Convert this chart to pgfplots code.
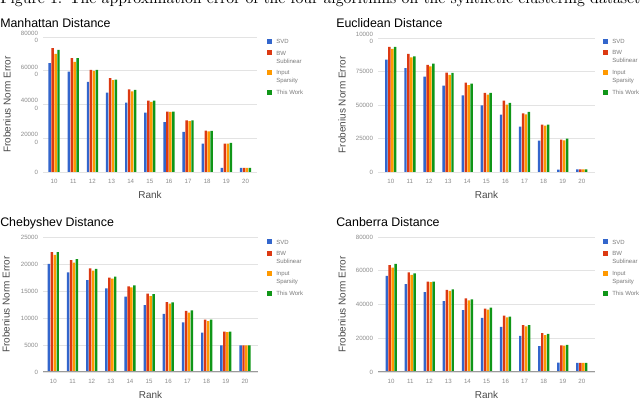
\documentclass[border=0pt]{standalone}
\usepackage{graphicx}
\usepackage{fontspec}
\setsansfont{Liberation Sans}
\usepackage{pgfplots}
\pgfplotsset{compat=1.18}
\usepackage{pgfplotstable}

\definecolor{svd}{HTML}{3366CC}
\definecolor{bws}{HTML}{DC3912}
\definecolor{inp}{HTML}{FF9900}
\definecolor{tw}{HTML}{109618}
\definecolor{gridc}{HTML}{E3E3E3}
\definecolor{tickc}{HTML}{8A8A8A}
\definecolor{labc}{HTML}{4A4A4A}
\definecolor{legc}{HTML}{7A7A7A}
\definecolor{basec}{HTML}{9A9A9A}

% values
\pgfplotstableread{
rank svd bw inp tw
10 645000 734000 700000 724000
11 595000 675000 652000 675000
12 534000 605000 599000 605000
13 470000 557000 544000 548000
14 411000 490000 478000 486000
15 352000 423000 415000 423000
16 296000 358000 356000 358000
17 237000 306000 302000 306000
18 168000 245000 241000 243000
19 24000 168000 168000 172000
20 24000 24000 24000 24000
}\manhattan

\pgfplotstableread{
rank svd bw inp tw
10 83800 93300 91800 93300
11 77600 88100 85600 86300
12 71100 79900 78900 80800
13 64400 74100 72400 73900
14 57200 66700 64900 65900
15 49800 59000 57700 59000
16 42800 53200 50200 51500
17 33800 43800 43000 44800
18 23400 35300 34600 35300
19 1700 24100 23600 24900
20 1900 1900 1900 1900
}\euclid

\pgfplotstableread{
rank svd bw inp tw
10 20000 22200 21700 22200
11 18450 20700 20250 20900
12 17000 19200 18750 19100
13 15500 17470 17300 17650
14 13950 15860 15680 16050
15 12400 14500 14070 14440
16 10740 12960 12650 12900
17 9200 11300 10990 11420
18 7280 9690 9440 9690
19 4940 7470 7400 7470
20 4940 4940 4940 4940
}\cheby

\pgfplotstableread{
rank svd bw inp tw
10 57000 63400 61800 64000
11 52000 59000 57600 58400
12 47400 53600 53200 53600
13 42000 48600 48000 49000
14 36600 43600 42400 43000
15 32000 37500 37000 38200
16 26800 33400 32400 32800
17 21400 27800 27000 27800
18 15400 23000 21800 22600
19 5600 15800 15600 16000
20 5400 5400 5400 5400
}\canberra

% legend entries: second line hangs below, room for it is made by the next entry
\newcommand{\twoline}[3][4.2pt]{\begin{tabular}[t]{@{}l@{}}\rule{0pt}{#1}#2\\#3\end{tabular}}
\newcommand{\legs}{\legend{SVD\strut,\twoline{BW}{Sublinear},\twoline[10.2pt]{Input}{Sparsity},\rule{0pt}{10.7pt}This Work\strut}}

\pgfplotsset{
  panel/.style={
    scale only axis,
    ybar=0.35pt, bar width=1.85pt,
    ymin=0,
    scaled y ticks=false,
    xtick={10,...,20},
    axis line style={draw=none},
    tick style={draw=none},
    ymajorgrids,
    major grid style={gridc, line width=0.6pt},
    /pgf/number format/assume math mode=true,
    tick label style={font=\sffamily\fontsize{4.6}{5.6}\selectfont, text=tickc},
    xticklabel style={inner sep=0pt, anchor=north, yshift=-1pt},
    yticklabel style={inner sep=0pt, anchor=east, xshift=-3.6pt, align=right},
    xlabel=Rank,
    ylabel=Frobenius Norm Error,
    label style={font=\sffamily\fontsize{7.5}{9}\selectfont, text=labc},
    xlabel style={at={(axis description cs:0.5,-0.17)}, anchor=center},
    title style={font=\sffamily\fontsize{9.3}{11}\selectfont, anchor=base west, inner sep=0pt, yshift=-6pt, text=black},
    legend style={draw=none, fill=none, anchor=north west,
      font=\sffamily\fontsize{4.5}{6}\selectfont, text=legc,
      row sep=3pt, column sep=3pt, inner sep=0pt,
      nodes={inner sep=0pt}, cells={anchor=base west}},
    every axis plot post/.append style={draw=none,
      legend image code/.code={\fill[##1,draw=none] (0pt,-0.3pt) rectangle (3.75pt,3.45pt);}},
  },
}

\begin{document}
\begin{tikzpicture}
\useasboundingbox (0,0) rectangle (480pt,298.5pt);

\node[anchor=base west, inner sep=0pt, font=\rmfamily] at (0pt,296pt)
  {\resizebox{480pt}{!}{Figure 1: The approximation error of the four algorithms on the synthetic clustering dataset}};

% Manhattan
\begin{axis}[panel,
  at={(32.25pt,169.5pt)}, anchor=south west,
  width=160.5pt, height=101.25pt,
  xmin=9.42, xmax=20.6, ymax=800000,
  ytick={0,200000,400000,600000,800000},
  yticklabels={0,{20000\\0},{40000\\0},{60000\\0},{80000\\0}},
  title={Manhattan Distance},
  title style={at={(axis description cs:-0.201,1.074)}},
  ylabel style={at={(axis description cs:-0.168,0.5)}, anchor=center},
  legend style={at={(axis description cs:1.0467,0.996)}},
]
\addplot[fill=svd] table[x=rank,y=svd]{\manhattan};
\addplot[fill=bws] table[x=rank,y=bw]{\manhattan};
\addplot[fill=inp] table[x=rank,y=inp]{\manhattan};
\addplot[fill=tw] table[x=rank,y=tw]{\manhattan};
\legs
\end{axis}

% Euclidean
\begin{axis}[panel,
  at={(283.5pt,169.5pt)}, anchor=south west,
  width=162.75pt, height=100.5pt,
  xmin=9.33, xmax=20.69, ymax=100000,
  ytick={0,25000,50000,75000,100000},
  yticklabels={0,25000,50000,75000,{10000\\0}},
  title={Euclidean Distance},
  title style={at={(axis description cs:-0.1935,1.082)}},
  ylabel style={at={(axis description cs:-0.166,0.5)}, anchor=center},
  legend style={at={(axis description cs:1.037,1.004)}},
]
\addplot[fill=svd] table[x=rank,y=svd]{\euclid};
\addplot[fill=bws] table[x=rank,y=bw]{\euclid};
\addplot[fill=inp] table[x=rank,y=inp]{\euclid};
\addplot[fill=tw] table[x=rank,y=tw]{\euclid};
\legs
\end{axis}

% Chebyshev
\begin{axis}[panel,
  at={(32.25pt,19.5pt)}, anchor=south west,
  width=161.25pt, height=101.25pt,
  xmin=9.46, xmax=20.68, ymax=25000,
  ytick={0,5000,10000,15000,20000,25000},
  yticklabels={0,5000,10000,15000,20000,25000},
  title={Chebyshev Distance},
  title style={at={(axis description cs:-0.2,1.078)}},
  ylabel style={at={(axis description cs:-0.172,0.5)}, anchor=center},
  legend style={at={(axis description cs:1.0419,0.991)}},
]
\addplot[fill=svd] table[x=rank,y=svd]{\cheby};
\addplot[fill=bws] table[x=rank,y=bw]{\cheby};
\addplot[fill=inp] table[x=rank,y=inp]{\cheby};
\addplot[fill=tw] table[x=rank,y=tw]{\cheby};
\draw[basec, line width=0.75pt] (rel axis cs:0,0) -- (rel axis cs:1,0);
\legs
\end{axis}

% Canberra
\begin{axis}[panel,
  at={(283.5pt,19.5pt)}, anchor=south west,
  width=162.75pt, height=101.25pt,
  xmin=9.31, xmax=20.69, ymax=80000,
  ytick={0,20000,40000,60000,80000},
  yticklabels={0,20000,40000,60000,80000},
  title={Canberra Distance},
  title style={at={(axis description cs:-0.1935,1.078)}},
  ylabel style={at={(axis description cs:-0.166,0.5)}, anchor=center},
  legend style={at={(axis description cs:1.037,0.991)}},
]
\addplot[fill=svd] table[x=rank,y=svd]{\canberra};
\addplot[fill=bws] table[x=rank,y=bw]{\canberra};
\addplot[fill=inp] table[x=rank,y=inp]{\canberra};
\addplot[fill=tw] table[x=rank,y=tw]{\canberra};
\draw[basec, line width=0.75pt] (rel axis cs:0,0) -- (rel axis cs:1,0);
\legs
\end{axis}
\end{tikzpicture}
\end{document}
